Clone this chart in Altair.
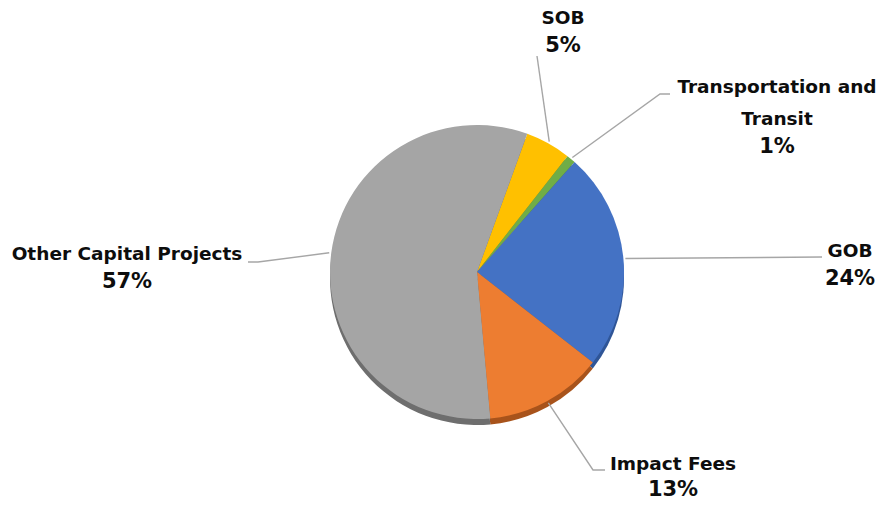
import math
import altair as alt
import pandas as pd

# ---------------- data ----------------
categories = ["SOB", "Transportation and Transit", "GOB", "Impact Fees", "Other Capital Projects"]
values = [5, 1, 24, 13, 57]
pct_labels = ["5%", "1%", "24%", "13%", "57%"]
name_lines = [["SOB"], ["Transportation and", "Transit"], ["GOB"], ["Impact Fees"], ["Other Capital Projects"]]

# ---------------- styles / layout ----------------
colors = ["#FFC000", "#70AD47", "#4472C4", "#ED7D31", "#A5A5A5"]
rim_colors = ["#B38700", "#4E7A31", "#2F5597", "#A8531B", "#6E6E6E"]
M = 8                      # page margin
W, H = 887 - 2 * M, 510 - 2 * M
CX, CY, R = 477 - M, 272 - M, 147
RIM = 6
START = math.radians(20)
NAME_SIZE, PCT_SIZE = 18.5, 21

# label anchors (page coords): centre x, baselines of name lines, baseline of percentage
label_layout = {
    "SOB": (563, [24], 52),
    "Transportation and Transit": (777, [93, 125], 153),
    "GOB": (850, [257], 285),
    "Impact Fees": (673, [470], 496),
    "Other Capital Projects": (127, [260], 288),
}
# leader line outer points (page coords), from label side toward pie
leader_layout = {
    "SOB": [(537, 56)],
    "Transportation and Transit": [(670, 94), (660, 94)],
    "GOB": [(822, 257)],
    "Impact Fees": [(605, 470), (593, 470)],
    "Other Capital Projects": [(248, 262), (258, 262)],
}

# ---------------- tables ----------------
pie = pd.DataFrame({"category": categories, "value": values, "order": list(range(len(categories)))})

total = sum(values)
text_rows_name, text_rows_pct, line_rows = [], [], []
cum = 0
for cat, v, pct, lines in zip(categories, values, pct_labels, name_lines):
    mid = START + 2 * math.pi * (cum + v / 2) / total
    cum += v
    cx, bls, pbl = label_layout[cat]
    for ln, bl in zip(lines, bls):
        text_rows_name.append({"x": cx - M, "y": bl - M, "t": ln})
    text_rows_pct.append({"x": cx - M, "y": pbl - M, "t": pct})
    pts = [(px - M, py - M) for px, py in leader_layout[cat]]
    rr = R + 2
    pts.append((CX + rr * math.sin(mid), CY - rr * math.cos(mid)))
    for i, (px, py) in enumerate(pts):
        line_rows.append({"category": cat, "i": i, "x": px, "y": py})

names_df = pd.DataFrame(text_rows_name)
pct_df = pd.DataFrame(text_rows_pct)
lines_df = pd.DataFrame(line_rows)

theta_scale = alt.Scale(range=[START, START + 2 * math.pi])

rim = alt.Chart(pie).mark_arc(radius=R, strokeWidth=0).encode(
    theta=alt.Theta("value:Q", stack=True, scale=theta_scale),
    color=alt.Color("category:N", scale=alt.Scale(domain=categories, range=rim_colors), legend=None),
    order=alt.Order("order:Q"),
    x=alt.value(CX),
    y=alt.value(CY + RIM),
)

arcs = alt.Chart(pie).mark_arc(radius=R, strokeWidth=0).encode(
    theta=alt.Theta("value:Q", stack=True, scale=theta_scale),
    color=alt.Color("category:N", scale=alt.Scale(domain=categories, range=colors), legend=None),
    order=alt.Order("order:Q"),
    x=alt.value(CX),
    y=alt.value(CY),
)

leaders = alt.Chart(lines_df).mark_line(color="#A6A6A6", strokeWidth=1.4).encode(
    x=alt.X("x:Q", scale=None, axis=None),
    y=alt.Y("y:Q", scale=None, axis=None),
    detail="category:N",
    order="i:Q",
)

names = alt.Chart(names_df).mark_text(
    font="DejaVu Sans", fontWeight="bold", fontSize=NAME_SIZE, align="center",
    baseline="alphabetic", color="#0D0D0D"
).encode(
    x=alt.X("x:Q", scale=None, axis=None),
    y=alt.Y("y:Q", scale=None, axis=None),
    text="t:N",
)

pcts = alt.Chart(pct_df).mark_text(
    font="DejaVu Sans", fontWeight="bold", fontSize=PCT_SIZE, align="center",
    baseline="alphabetic", color="#0D0D0D"
).encode(
    x=alt.X("x:Q", scale=None, axis=None),
    y=alt.Y("y:Q", scale=None, axis=None),
    text="t:N",
)

chart = alt.layer(rim, arcs, leaders, names, pcts).resolve_scale(color="independent").properties(
    width=W, height=H, padding=0, autosize="none", background="white"
).configure_view(stroke=None)

chart.save("out.html", embed_options={"renderer": "svg", "actions": False})
